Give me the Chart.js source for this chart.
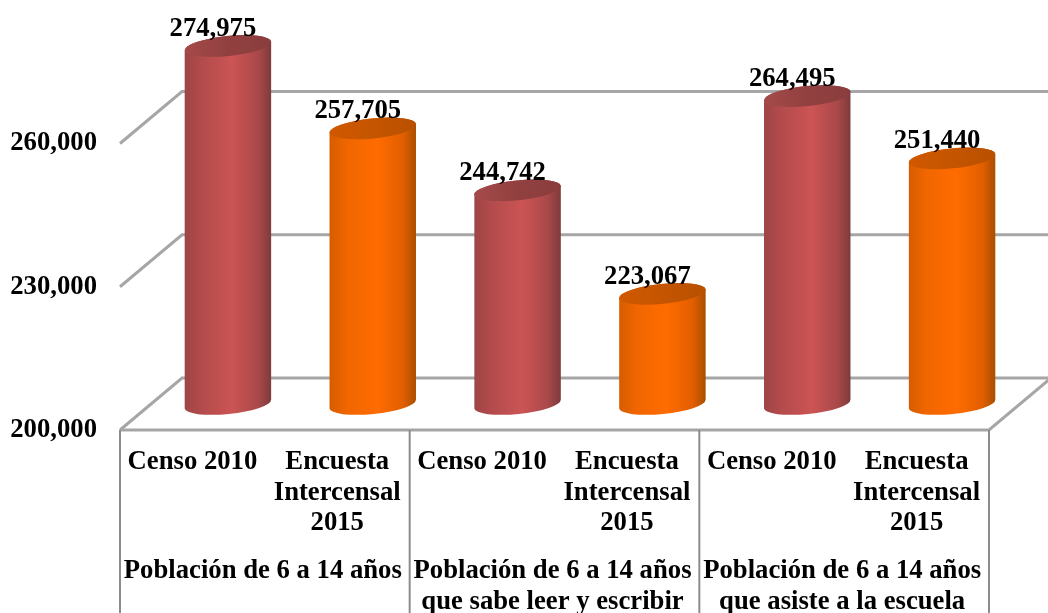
<!DOCTYPE html>
<html>
<head>
<meta charset="utf-8">
<style>
  html, body { margin: 0; padding: 0; background: #fff; }
  canvas { display: block; }
</style>
</head>
<body>
<canvas id="grafica" width="1048" height="613"></canvas>
<script src="https://cdn.jsdelivr.net/npm/chart.js@4"></script>
<script>
const categorias = [
    'Censo 2010', ['Encuesta', 'Intercensal', '2015'],
    'Censo 2010', ['Encuesta', 'Intercensal', '2015'],
    'Censo 2010', ['Encuesta', 'Intercensal', '2015']
];
const grupos = [
    ['Población de 6 a 14 años'],
    ['Población de 6 a 14 años', 'que sabe leer y escribir'],
    ['Población de 6 a 14 años', 'que asiste a la escuela']
];
const valores = [274975, 257705, 244742, 223067, 264495, 251440];
const marcasY = [200000, 230000, 260000];

const fuente = { family: '"Liberation Serif", serif', size: 26.7, weight: 'bold', lineHeight: 1.14 };
const numero = v => v.toLocaleString('en-US');

// colores del cilindro: lado (5 paradas) y tapa (3 paradas)
const rojo = {
    lado: ['#9e4445', '#b34b4c', '#cc5454', '#a94849', '#7d3a3b'],
    tapa: ['#a64a4b', '#91403f', '#8a3d3e']
};
const naranja = {
    lado: ['#d65c00', '#f06600', '#ff6c00', '#e25e00', '#a84e00'],
    tapa: ['#d05800', '#c55500', '#b85000']
};
const paradasLado = [0, 0.2, 0.55, 0.85, 1];

// profundidad del piso 3D
const fondoX = 62, fondoY = 52;
const centroX = 35.5, centroY = 26;
const inclinacion = -5.8 * Math.PI / 180;

function cilindro(ctx, barra, colores) {
    const cx = barra.x + centroX;
    const a = barra.width / 2, b = 10;
    const arriba = barra.y - centroY, abajo = barra.base - centroY;

    const lado = ctx.createLinearGradient(cx - a, 0, cx + a, 0);
    colores.lado.forEach((c, i) => lado.addColorStop(paradasLado[i], c));
    ctx.beginPath();
    ctx.ellipse(cx, abajo, a, b, inclinacion, 0, Math.PI, false);
    ctx.ellipse(cx, arriba, a, b, inclinacion, Math.PI, Math.PI * 2, false);
    ctx.closePath();
    ctx.fillStyle = lado;
    ctx.fill();

    const tapa = ctx.createLinearGradient(cx - a, 0, cx + a, 0);
    colores.tapa.forEach((c, i) => tapa.addColorStop(i / 2, c));
    ctx.beginPath();
    ctx.ellipse(cx, arriba, a, b, inclinacion, 0, Math.PI * 2);
    ctx.fillStyle = tapa;
    ctx.fill();
}

const piso3d = {
    id: 'piso3d',
    beforeDatasetsDraw(chart) {
        const { ctx, scales, chartArea, width, height } = chart;
        const y = scales.y;
        ctx.save();
        ctx.strokeStyle = '#a6a6a6';
        ctx.lineWidth = 3;
        marcasY.forEach(v => {
            const py = y.getPixelForValue(v);
            ctx.beginPath();
            ctx.moveTo(chartArea.left, py);
            ctx.lineTo(chartArea.left + fondoX, py - fondoY);
            ctx.lineTo(width, py - fondoY);
            ctx.stroke();
        });
        const base = y.getPixelForValue(marcasY[0]);
        ctx.beginPath();
        ctx.moveTo(chartArea.left, base);
        ctx.lineTo(chartArea.right, base);
        ctx.lineTo(chartArea.right + fondoX, base - fondoY);
        ctx.stroke();

        // separadores de los grupos bajo el eje
        ctx.strokeStyle = '#8c8c8c';
        ctx.lineWidth = 2;
        const paso = chartArea.width / grupos.length;
        for (let i = 0; i <= grupos.length; i++) {
            const px = chartArea.left + paso * i;
            ctx.beginPath();
            ctx.moveTo(px, base);
            ctx.lineTo(px, height);
            ctx.stroke();
        }
        ctx.restore();
    },
    afterDatasetsDraw(chart) {
        const { ctx } = chart;
        const barras = chart.getDatasetMeta(0).data;
        ctx.save();
        barras.forEach((barra, i) => cilindro(ctx, barra, i % 2 ? naranja : rojo));
        ctx.font = 'bold 26.7px "Liberation Serif", serif';
        ctx.fillStyle = '#000';
        ctx.textAlign = 'center';
        ctx.textBaseline = 'middle';
        barras.forEach((barra, i) => {
            ctx.fillText(numero(valores[i]), barra.x + 20.5, barra.y - 43);
        });
        ctx.restore();
    }
};

new Chart(document.getElementById('grafica').getContext('2d'), {
    type: 'bar',
    data: {
        labels: categorias,
        datasets: [{
            data: valores,
            base: marcasY[0],
            backgroundColor: 'rgba(0,0,0,0)',
            barPercentage: 0.6,
            categoryPercentage: 1
        }]
    },
    plugins: [piso3d],
    options: {
        responsive: false,
        animation: false,
        layout: { padding: { top: 48, right: 59, bottom: 0, left: 0 } },
        plugins: { legend: { display: false }, tooltip: { enabled: false } },
        scales: {
            y: {
                min: 200000,
                max: 280000,
                grid: { display: false, drawTicks: false },
                border: { display: false },
                afterFit(scale) { scale.width = 120; },
                afterBuildTicks(scale) { scale.ticks = marcasY.map(value => ({ value })); },
                ticks: { font: fuente, color: '#000', padding: 23, callback: v => numero(v) }
            },
            x: {
                weight: 0,
                grid: { display: false, drawTicks: false },
                border: { display: false },
                afterFit(scale) { scale.height = 123; },
                ticks: { font: fuente, color: '#000', padding: 17, autoSkip: false, maxRotation: 0 }
            },
            x2: {
                type: 'category',
                labels: grupos,
                position: 'bottom',
                offset: true,
                weight: 1,
                grid: { display: false, drawTicks: false },
                border: { display: false },
                afterFit(scale) { scale.height = 60; },
                ticks: { font: fuente, color: '#000', padding: 3, labelOffset: -2, autoSkip: false, maxRotation: 0 }
            }
        }
    }
});
</script>
</body>
</html>
